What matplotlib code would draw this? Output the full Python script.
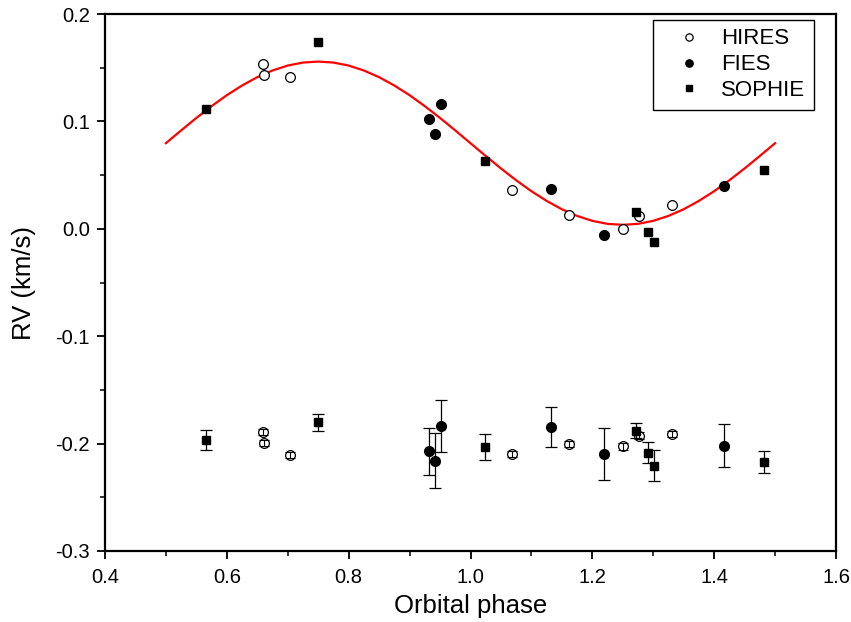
import matplotlib
matplotlib.use("Agg")
import matplotlib.pyplot as plt
import numpy as np

plt.rcParams['font.family'] = ['Liberation Sans', 'DejaVu Sans']

# ---- data ----
hires_phase = [0.659, 0.661, 0.703, 1.068, 1.161, 1.250, 1.277, 1.331]
hires_rv    = [0.1536, 0.143, 0.141, 0.0357, 0.0133, 0.000, 0.0118, 0.0217]
hires_res   = [0.0107, 0.0005, -0.0104, -0.0098, -0.0002, -0.0027, 0.0075, 0.0088]
hires_err   = [0.003, 0.003, 0.003, 0.003, 0.003, 0.003, 0.003, 0.003]

fies_phase = [0.932, 0.942, 0.952, 1.132, 1.219, 1.416]
fies_rv    = [0.102, 0.0885, 0.116, 0.037, -0.0056, 0.040]
fies_res   = [-0.0073, -0.016, 0.0166, 0.0153, -0.0098, -0.002]
fies_err   = [0.022, 0.0256, 0.024, 0.0186, 0.0244, 0.020]

sophie_phase = [0.565, 0.750, 1.024, 1.272, 1.291, 1.302, 1.481]
sophie_rv    = [0.112, 0.174, 0.0627, 0.0155, -0.003, -0.0124, 0.055]
sophie_res   = [0.0033, 0.0197, -0.0033, 0.0119, -0.0083, -0.0204, -0.0172]
sophie_err   = [0.0097, 0.008, 0.012, 0.007, 0.010, 0.014, 0.010]

res_offset = -0.2

model_phase = [0.500, 0.525, 0.550, 0.575, 0.600, 0.625, 0.650, 0.675, 0.700, 0.725,
               0.750, 0.775, 0.800, 0.825, 0.850, 0.875, 0.900, 0.925, 0.950, 0.975,
               1.000, 1.025, 1.050, 1.075, 1.100, 1.125, 1.150, 1.175, 1.200, 1.225,
               1.250, 1.275, 1.300, 1.325, 1.350, 1.375, 1.400, 1.425, 1.450, 1.475, 1.500]
model_rv = [0.0797, 0.0916, 0.1032, 0.1142, 0.1244, 0.1334, 0.1412, 0.1474, 0.1520, 0.1548,
            0.1557, 0.1548, 0.1520, 0.1474, 0.1412, 0.1334, 0.1244, 0.1142, 0.1032, 0.0916,
            0.0797, 0.0678, 0.0562, 0.0452, 0.0350, 0.0260, 0.0182, 0.0120, 0.0074, 0.0046,
            0.0037, 0.0046, 0.0074, 0.0120, 0.0182, 0.0260, 0.0350, 0.0452, 0.0562, 0.0678, 0.0797]

x_ticks = [0.4, 0.6, 0.8, 1.0, 1.2, 1.4, 1.6]
y_ticks = [-0.3, -0.2, -0.1, 0.0, 0.1, 0.2]

# ---- figure ----
fig = plt.figure(figsize=(8.51, 6.22), dpi=100)
ax = fig.add_axes([105/851, 1-551/622, (836-105)/851, (551-14)/622])

ax.plot(model_phase, model_rv, color='red', lw=1.6, zorder=2)

ms_c = 7.0
ms_s = 6.2
ax.plot(hires_phase, hires_rv, 'o', mfc='white', mec='black', mew=0.9, ms=ms_c, ls='none', label='HIRES', zorder=3)
ax.plot(fies_phase, fies_rv, 'o', mfc='black', mec='black', ms=ms_c, ls='none', label='FIES', zorder=3)
ax.plot(sophie_phase, sophie_rv, 's', mfc='black', mec='black', ms=ms_s, ls='none', label='SOPHIE', zorder=3)

hr = np.array(hires_res) + res_offset
fr = np.array(fies_res) + res_offset
sr = np.array(sophie_res) + res_offset
ax.plot(hires_phase, hr, 'o', mfc='white', mec='black', mew=0.9, ms=ms_c, ls='none', zorder=3)
ax.errorbar(hires_phase, hr, yerr=hires_err, fmt='none',
            ecolor='black', elinewidth=0.8, capsize=3.5, capthick=0.8, zorder=4)
ax.errorbar(fies_phase, fr, yerr=fies_err, fmt='o', mfc='black', mec='black', ms=ms_c,
            ecolor='black', elinewidth=0.9, capsize=4.5, capthick=0.9, zorder=3)
ax.errorbar(sophie_phase, sr, yerr=sophie_err, fmt='s', mfc='black', mec='black', ms=ms_s,
            ecolor='black', elinewidth=0.9, capsize=4.5, capthick=0.9, zorder=3)

ax.set_xlim(0.4, 1.6)
ax.set_ylim(-0.3, 0.2)
ax.set_xticks(x_ticks)
ax.set_xticklabels([f"{v:.1f}" for v in x_ticks])
ax.set_yticks(y_ticks)
ax.set_yticklabels([f"{v:.1f}" for v in y_ticks])
ax.set_xticks(np.arange(0.5, 1.6, 0.2), minor=True)
ax.set_yticks(np.arange(-0.25, 0.2, 0.1), minor=True)

ax.tick_params(which='major', direction='out', length=6, width=1.3, labelsize=14.5, top=False, right=False)
ax.tick_params(axis='x', which='major', pad=6)
ax.tick_params(axis='y', which='major', pad=5)
ax.tick_params(which='minor', direction='out', length=3.5, width=1.1, top=False, right=False)
for s in ax.spines.values():
    s.set_linewidth(1.6)

ax.set_xlabel('Orbital phase', fontsize=18.5, labelpad=5)
ax.set_ylabel('RV (km/s)', fontsize=18.5, labelpad=14)

leg = ax.legend(loc='upper right', bbox_to_anchor=(1 - 22/731, 1 - 6/537), borderaxespad=0,
                fontsize=16, frameon=True, fancybox=False, edgecolor='black', framealpha=1,
                markerscale=0.75, handletextpad=0.2, handlelength=2.5, borderpad=0.38, labelspacing=0.22)
leg.get_frame().set_linewidth(1.0)

fig.savefig('out.png', dpi=100)
